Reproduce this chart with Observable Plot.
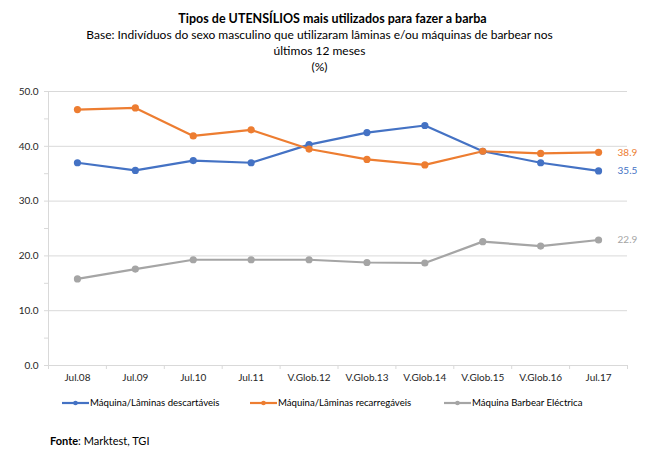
<!DOCTYPE html>
<html>
<head>
<meta charset="utf-8">
<script src="https://cdn.jsdelivr.net/npm/d3@7"></script>
<script src="https://cdn.jsdelivr.net/npm/@observablehq/plot@0.6"></script>
<style>
  body { margin: 0; background: #fff; font-family: Lato, "Open Sans", sans-serif; color: #000; }
  #wrap { position: relative; width: 665px; height: 465px; overflow: hidden; }
  .tl { position: absolute; left: 0; width: 665px; text-align: center; white-space: nowrap; }
  #t1 { top: 11px; font-size: 12.5px; line-height: 16px; font-weight: bold; }
  #t2 { top: 27px; font-size: 12px; line-height: 16px; left: -13px; }
  #chart { position: absolute; left: 0; top: 80px; }
  #legend { position: absolute; top: 396px; left: 0; font-size: 9.6px; color: #000; }
  .li { position: absolute; white-space: nowrap; height: 14px; line-height: 14px; }
  #source { position: absolute; left: 50px; top: 434px; font-size: 11px; }
</style>
</head>
<body>
<div id="wrap">
  <div id="t1" class="tl">Tipos de UTENSÍLIOS mais utilizados para fazer a barba</div>
  <div id="t2" class="tl">Base: Indivíduos do sexo masculino que utilizaram lâminas e/ou máquinas de barbear nos<br>últimos 12 meses<br>(%)</div>
  <div id="chart"></div>
  <div id="legend"></div>
  <div id="source"><b>Fonte</b>: Marktest, TGI</div>
</div>
<script>
const categories = ["Jul.08","Jul.09","Jul.10","Jul.11","V.Glob.12","V.Glob.13","V.Glob.14","V.Glob.15","V.Glob.16","Jul.17"];
const seriesNames = ["Máquina/Lâminas descartáveis","Máquina/Lâminas recarregáveis","Máquina Barbear Eléctrica"];
const descartaveis = [37.0, 35.6, 37.4, 37.0, 40.3, 42.5, 43.8, 39.1, 37.0, 35.5];
const recarregaveis = [46.7, 47.0, 41.9, 43.0, 39.5, 37.6, 36.6, 39.1, 38.7, 38.9];
const electrica = [15.8, 17.6, 19.3, 19.3, 19.3, 18.8, 18.7, 22.6, 21.8, 22.9];
const colors = ["#4472C4", "#ED7D31", "#A5A5A5"];
const yTicks = [0, 5, 10, 15, 20, 25, 30, 35, 40, 45, 50];

const allSeries = [descartaveis, recarregaveis, electrica];
const data = [];
allSeries.forEach((vals, s) => vals.forEach((v, i) => data.push({series: seriesNames[s], i, cat: categories[i], value: v})));
const last = data.filter(d => d.i === categories.length - 1);
const boundaries = d3.range(-0.5, categories.length, 1);
const centers = d3.range(categories.length);

const chart = Plot.plot({
  width: 665,
  height: 305,
  marginLeft: 48,
  marginRight: 38,
  marginTop: 11,
  marginBottom: 20,
  style: {fontFamily: "Lato, 'Open Sans', sans-serif", fontSize: "10px", background: "transparent"},
  x: {domain: [-0.5, categories.length - 0.5], axis: null, label: null},
  y: {domain: [0, 50], axis: null, label: null},
  color: {domain: seriesNames, range: colors},
  marks: [
    Plot.gridY(yTicks.filter(t => t % 10 === 0 && t > 0), {stroke: "#d9d9d9", strokeOpacity: 1, strokeWidth: 1}),
    Plot.axisY({ticks: yTicks, tickSize: 4, tickPadding: 6, stroke: "#d9d9d9", label: null, tickFormat: d => d % 10 === 0 ? d.toFixed(1) : "", fill: "#262626", fontSize: 10}),
    Plot.axisX({ticks: boundaries, tickSize: 4, label: null, tickFormat: () => "", stroke: "#d9d9d9"}),
    Plot.axisX({ticks: centers, tickSize: 0, tickPadding: 8, label: null, tickFormat: i => categories[i], fill: "#262626", fontSize: 10}),
    Plot.ruleX([-0.5], {stroke: "#d9d9d9"}),
    Plot.ruleY([0], {stroke: "#d9d9d9"}),
    Plot.line(data, {x: "i", y: "value", stroke: "series", z: "series", strokeWidth: 2.2}),
    Plot.dot(data, {x: "i", y: "value", fill: "series", r: 3.6, stroke: "none"}),
    Plot.text(last, {x: "i", y: "value", text: d => d.value.toFixed(1), fill: "series", dx: 19, textAnchor: "start", fontSize: 10})
  ]
});
document.getElementById("chart").appendChild(chart);

const swatchX = [62, 250, 444];
const legend = document.getElementById("legend");
seriesNames.forEach((name, s) => {
  const sw = document.createElement("div");
  sw.className = "li";
  sw.style.left = swatchX[s] + "px";
  sw.innerHTML = `<svg width="27" height="14" style="vertical-align:top"><line x1="0" x2="27" y1="7" y2="7" stroke="${colors[s]}" stroke-width="2.2"/><circle cx="13.5" cy="7" r="2.3" fill="${colors[s]}"/></svg><span style="margin-left:1px;vertical-align:top">${name}</span>`;
  legend.appendChild(sw);
});
</script>
</body>
</html>
